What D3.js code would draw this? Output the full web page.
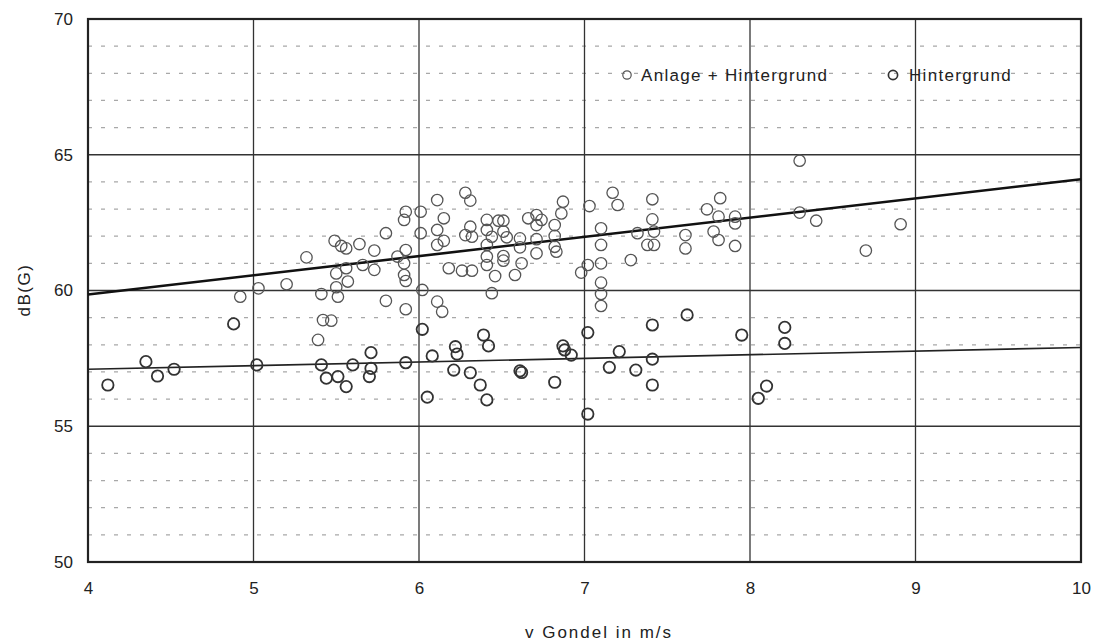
<!DOCTYPE html>
<html>
<head>
<meta charset="utf-8">
<script src="https://cdn.jsdelivr.net/npm/d3@7"></script>
<style>
  body { margin: 0; background: #fff; }
  svg text { font-family: "Liberation Sans", Arial, sans-serif; fill: #222; }
</style>
</head>
<body>
<svg width="1100" height="642"></svg>
<script>
// v Gondel (m/s) / dB(G)
let anlage = [
  [4.92,59.77],[5.03,60.08],[5.20,60.23],[5.32,61.22],[5.41,59.87],[5.50,60.12],[5.51,59.77],
  [5.50,60.63],[5.57,60.33],[5.49,61.83],[5.53,61.64],[5.56,61.55],[5.64,61.71],[5.56,60.82],
  [5.66,60.94],[5.73,61.47],[5.73,60.76],[5.80,62.11],[5.80,59.62],[5.91,62.60],[5.92,61.49],
  [5.91,61.00],[5.91,60.57],[5.92,60.35],[5.92,59.31],[5.87,61.25],[5.92,62.90],[5.39,58.18],
  [5.42,58.91],[5.47,58.89],[6.01,62.90],[6.01,62.11],[6.02,60.02],[6.11,63.33],[6.15,62.66],
  [6.11,62.23],[6.15,61.83],[6.11,61.68],[6.11,59.59],[6.14,59.22],[6.28,63.60],[6.31,63.31],
  [6.28,62.04],[6.31,62.35],[6.32,61.98],[6.18,60.82],[6.26,60.73],[6.32,60.73],[6.41,62.60],
  [6.41,62.23],[6.44,61.98],[6.41,61.68],[6.41,61.25],[6.41,60.94],[6.46,60.53],[6.44,59.90],
  [6.48,62.57],[6.51,62.57],[6.51,62.17],[6.53,61.96],[6.51,61.27],[6.51,61.10],[6.61,61.92],
  [6.61,61.59],[6.62,61.00],[6.58,60.57],[6.66,62.66],[6.71,62.78],[6.74,62.60],[6.71,62.41],
  [6.71,61.89],[6.71,61.37],[6.82,62.41],[6.82,62.01],[6.82,61.61],[6.83,61.43],[6.86,62.84],
  [6.87,63.27],[7.02,60.94],[6.98,60.66],[7.03,63.11],[7.10,62.29],[7.10,61.68],[7.10,61.00],
  [7.10,60.29],[7.10,59.87],[7.10,59.43],[7.17,63.60],[7.20,63.15],[7.28,61.12],[7.32,62.11],
  [7.38,61.68],[7.42,61.68],[7.41,63.36],[7.41,62.62],[7.42,62.17],[7.61,62.04],[7.61,61.55],
  [7.74,62.99],[7.78,62.17],[7.81,62.72],[7.82,63.40],[7.81,61.86],[7.91,62.72],[7.91,62.47],
  [7.91,61.64],[8.30,64.78],[8.30,62.87],[8.40,62.57],[8.70,61.47],[8.91,62.44]
];

let hintergrund = [
  [4.12,56.52],[4.35,57.38],[4.42,56.85],[4.52,57.10],[4.88,58.77],[5.02,57.26],[5.41,57.26],
  [5.44,56.77],[5.51,56.83],[5.56,56.46],[5.60,57.26],[5.71,57.71],[5.71,57.13],[5.70,56.83],
  [5.92,57.34],[6.02,58.57],[6.08,57.59],[6.05,56.07],[6.22,57.93],[6.23,57.66],[6.21,57.07],
  [6.31,56.97],[6.37,56.52],[6.39,58.36],[6.42,57.96],[6.41,55.97],[6.61,57.04],[6.62,56.98],
  [6.82,56.62],[6.87,57.96],[6.88,57.81],[6.92,57.62],[7.02,58.45],[7.02,55.45],[7.15,57.17],
  [7.21,57.75],[7.31,57.07],[7.41,58.73],[7.41,57.47],[7.41,56.52],[7.62,59.10],[7.95,58.36],
  [8.21,58.64],[8.21,58.05],[8.10,56.48],[8.05,56.03]
];

// trend lines (end points)
let trendAnlage = [[4, 59.85], [10, 64.1]];
let trendHinter = [[4, 57.1], [10, 57.9]];

let xTicks = [4, 5, 6, 7, 8, 9, 10];
let yTicks = [50, 55, 60, 65, 70];
let yMinor = d3.range(51, 70).filter(function(v) { return v % 5 !== 0; });

let svg = d3.select("svg");
let plotL = 88, plotR = 1081, plotT = 19, plotB = 562;

let x = d3.scaleLinear().domain([4, 10]).range([plotL, plotR]);
let y = d3.scaleLinear().domain([50, 70]).range([plotB, plotT]);

// minor dashed grid
svg.append("g").selectAll("line")
  .data(yMinor)
  .enter().append("line")
    .attr("x1", plotL).attr("x2", plotR)
    .attr("y1", function(d) { return y(d); }).attr("y2", function(d) { return y(d); })
    .attr("stroke", "#a8a8a8")
    .attr("stroke-width", 1.2)
    .attr("stroke-dasharray", "4,9");

// major grid
svg.append("g").selectAll("line")
  .data(xTicks.slice(1, -1))
  .enter().append("line")
    .attr("x1", function(d) { return x(d); }).attr("x2", function(d) { return x(d); })
    .attr("y1", plotT).attr("y2", plotB)
    .attr("stroke", "#333").attr("stroke-width", 1.3);

svg.append("g").selectAll("line")
  .data(yTicks.slice(1, -1))
  .enter().append("line")
    .attr("x1", plotL).attr("x2", plotR)
    .attr("y1", function(d) { return y(d); }).attr("y2", function(d) { return y(d); })
    .attr("stroke", "#333").attr("stroke-width", 1.3);

// frame
svg.append("rect")
  .attr("x", plotL).attr("y", plotT)
  .attr("width", plotR - plotL).attr("height", plotB - plotT)
  .attr("fill", "none").attr("stroke", "#222").attr("stroke-width", 2.2);

// axes labels via d3 axes, lines hidden
let xAxis = svg.append("g")
  .attr("transform", "translate(0," + plotB + ")")
  .call(d3.axisBottom(x).tickValues(xTicks).tickFormat(d3.format("d")).tickSize(0).tickPadding(26));
let yAxis = svg.append("g")
  .attr("transform", "translate(" + plotL + ",0)")
  .call(d3.axisLeft(y).tickValues(yTicks).tickFormat(d3.format("d")).tickSize(0).tickPadding(15));
[xAxis, yAxis].forEach(function(a) {
  a.select(".domain").remove();
  a.selectAll("text")
    .style("font-family", "'Liberation Sans', Arial, sans-serif")
    .style("font-size", "17px")
    .attr("fill", "#222");
});
xAxis.selectAll("text").attr("dy", "0.35em");

svg.append("text")
  .attr("x", 599).attr("y", 638)
  .attr("text-anchor", "middle")
  .style("font-size", "17px")
  .style("letter-spacing", "2px")
  .text("v Gondel in m/s");

svg.append("text")
  .attr("transform", "translate(30,290) rotate(-90)")
  .attr("text-anchor", "middle")
  .style("font-size", "17px")
  .style("letter-spacing", "1.5px")
  .text("dB(G)");

// trend lines
let line = d3.line()
  .x(function(d) { return x(d[0]); })
  .y(function(d) { return y(d[1]); });

svg.append("path").datum(trendHinter)
  .attr("d", line).attr("fill", "none")
  .attr("stroke", "#222").attr("stroke-width", 1.7);

svg.append("path").datum(trendAnlage)
  .attr("d", line).attr("fill", "none")
  .attr("stroke", "#111").attr("stroke-width", 2.6);

// points
svg.append("g").selectAll("circle")
  .data(anlage)
  .enter().append("circle")
    .attr("cx", function(d) { return x(d[0]); })
    .attr("cy", function(d) { return y(d[1]); })
    .attr("r", 5.7)
    .attr("fill", "none").attr("stroke", "#555").attr("stroke-width", 1.3);

svg.append("g").selectAll("circle")
  .data(hintergrund)
  .enter().append("circle")
    .attr("cx", function(d) { return x(d[0]); })
    .attr("cy", function(d) { return y(d[1]); })
    .attr("r", 5.7)
    .attr("fill", "none").attr("stroke", "#333").attr("stroke-width", 1.8);

// legend
let legend = svg.append("g");
legend.append("circle").attr("cx", 627).attr("cy", 75).attr("r", 4.2)
  .attr("fill", "none").attr("stroke", "#555").attr("stroke-width", 1.2);
legend.append("text").attr("x", 641).attr("y", 81)
  .style("font-size", "17px").style("letter-spacing", "1.3px")
  .text("Anlage + Hintergrund");
legend.append("circle").attr("cx", 893).attr("cy", 75).attr("r", 4.6)
  .attr("fill", "none").attr("stroke", "#333").attr("stroke-width", 1.7);
legend.append("text").attr("x", 909).attr("y", 81)
  .style("font-size", "17px").style("letter-spacing", "1.3px")
  .text("Hintergrund");
</script>
</body>
</html>
